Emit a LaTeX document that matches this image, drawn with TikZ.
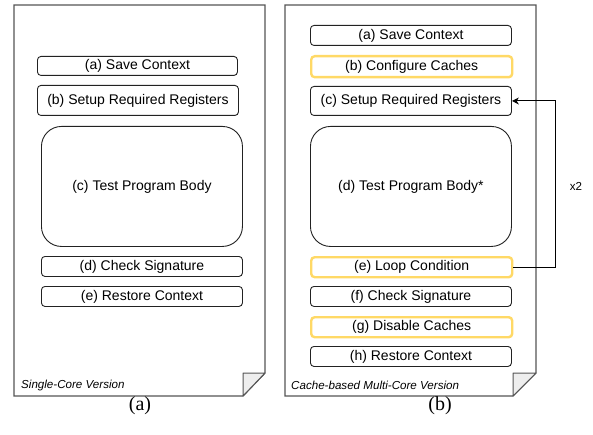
\documentclass[tikz,border=0pt]{standalone}
\usepackage{fontspec}
\setmainfont{Liberation Sans}
\newfontfamily\capfont{Liberation Serif}
\usetikzlibrary{arrows.meta}
\definecolor{pageline}{HTML}{555555}
\definecolor{foldfill}{HTML}{EEEEEE}
\definecolor{hiyellow}{HTML}{FFD966}
\definecolor{boxline}{HTML}{222222}
\tikzset{
  pageshape/.style={draw=pageline, line width=1.3pt, fill=white, line join=miter},
  foldshape/.style={draw=pageline, line width=1.0pt, fill=foldfill, line join=round},
  stepbox/.style={draw=boxline, line width=0.9pt, rounded corners=3.5pt, inner sep=0pt,
    font=\fontsize{14}{16}\selectfont},
  bodybox/.style={stepbox, rounded corners=20pt},
  hibox/.style={stepbox, draw=hiyellow, line width=2.4pt},
  pagelabel/.style={font=\fontsize{11.6}{13}\selectfont\itshape, anchor=west, inner sep=0pt},
  captext/.style={font=\capfont\fontsize{20}{22}\selectfont, inner sep=0pt},
  looparrow/.style={draw=black, line width=0.9pt, -{Stealth[length=7pt,width=7pt]}}
}
\newcommand{\mkbox}[7]{% name, style, x1, y1, x2, y2, text
  \node[#2, minimum width={#5-#3}, minimum height={#6-#4}, anchor=north west] (#1) at (#3,#4) {#7};}
\begin{document}
\begin{tikzpicture}[x=1pt,y=-1pt]
\useasboundingbox (0,0) rectangle (593,435);
% ---------- page (a)
\draw[pageshape] (14,5) -- (265,5) -- (265,373) -- (243,396) -- (14,396) -- cycle;
\draw[foldshape] (243,373) -- (265,373) -- (243,396) -- cycle;
\mkbox{a1}{stepbox}{37}{56}{237}{75}{(a) Save Context}
\mkbox{a2}{stepbox}{37}{85}{238}{115}{(b) Setup Required Registers}
\mkbox{a3}{bodybox}{41}{126}{242}{246}{(c) Test Program Body}
\mkbox{a4}{stepbox}{41}{256}{242}{276}{(d) Check Signature}
\mkbox{a5}{stepbox}{41}{286}{242}{306}{(e) Restore Context}
\node[pagelabel] (la) at (21,385) {Single-Core Version};
\node[captext] (ca) at (140,406) {(a)};
% ---------- page (b)
\draw[pageshape] (285,5) -- (536,5) -- (536,373) -- (513,396) -- (285,396) -- cycle;
\draw[foldshape] (513,373) -- (536,373) -- (513,396) -- cycle;
\mkbox{b1}{stepbox}{310}{25}{511}{45}{(a) Save Context}
\mkbox{b2}{hibox}{310}{55}{511}{76}{(b) Configure Caches}
\mkbox{b3}{stepbox}{310}{86}{511}{115}{(c) Setup Required Registers}
\mkbox{b4}{bodybox}{310}{126}{511}{246}{(d) Test Program Body*}
\mkbox{b5}{hibox}{310}{256}{511}{276}{(e) Loop Condition}
\mkbox{b6}{stepbox}{310}{286}{511}{306}{(f) Check Signature}
\mkbox{b7}{hibox}{310}{316}{511}{336}{(g) Disable Caches}
\mkbox{b8}{stepbox}{310}{346}{511}{366}{(h) Restore Context}
\node[pagelabel] (lb) at (291,385) {Cache-based Multi-Core Version};
\node[captext] (cb) at (440,406) {(b)};
% ---------- loop connector
\coordinate (lr) at (555,0);
\draw[looparrow] (b5.east) -- (b5.east -| lr) -- (b3.east -| lr) -- (b3.east);
\node[font=\fontsize{11.6}{13}\selectfont, inner sep=0pt] (x2) at (576,186) {x2};
\end{tikzpicture}
\end{document}
